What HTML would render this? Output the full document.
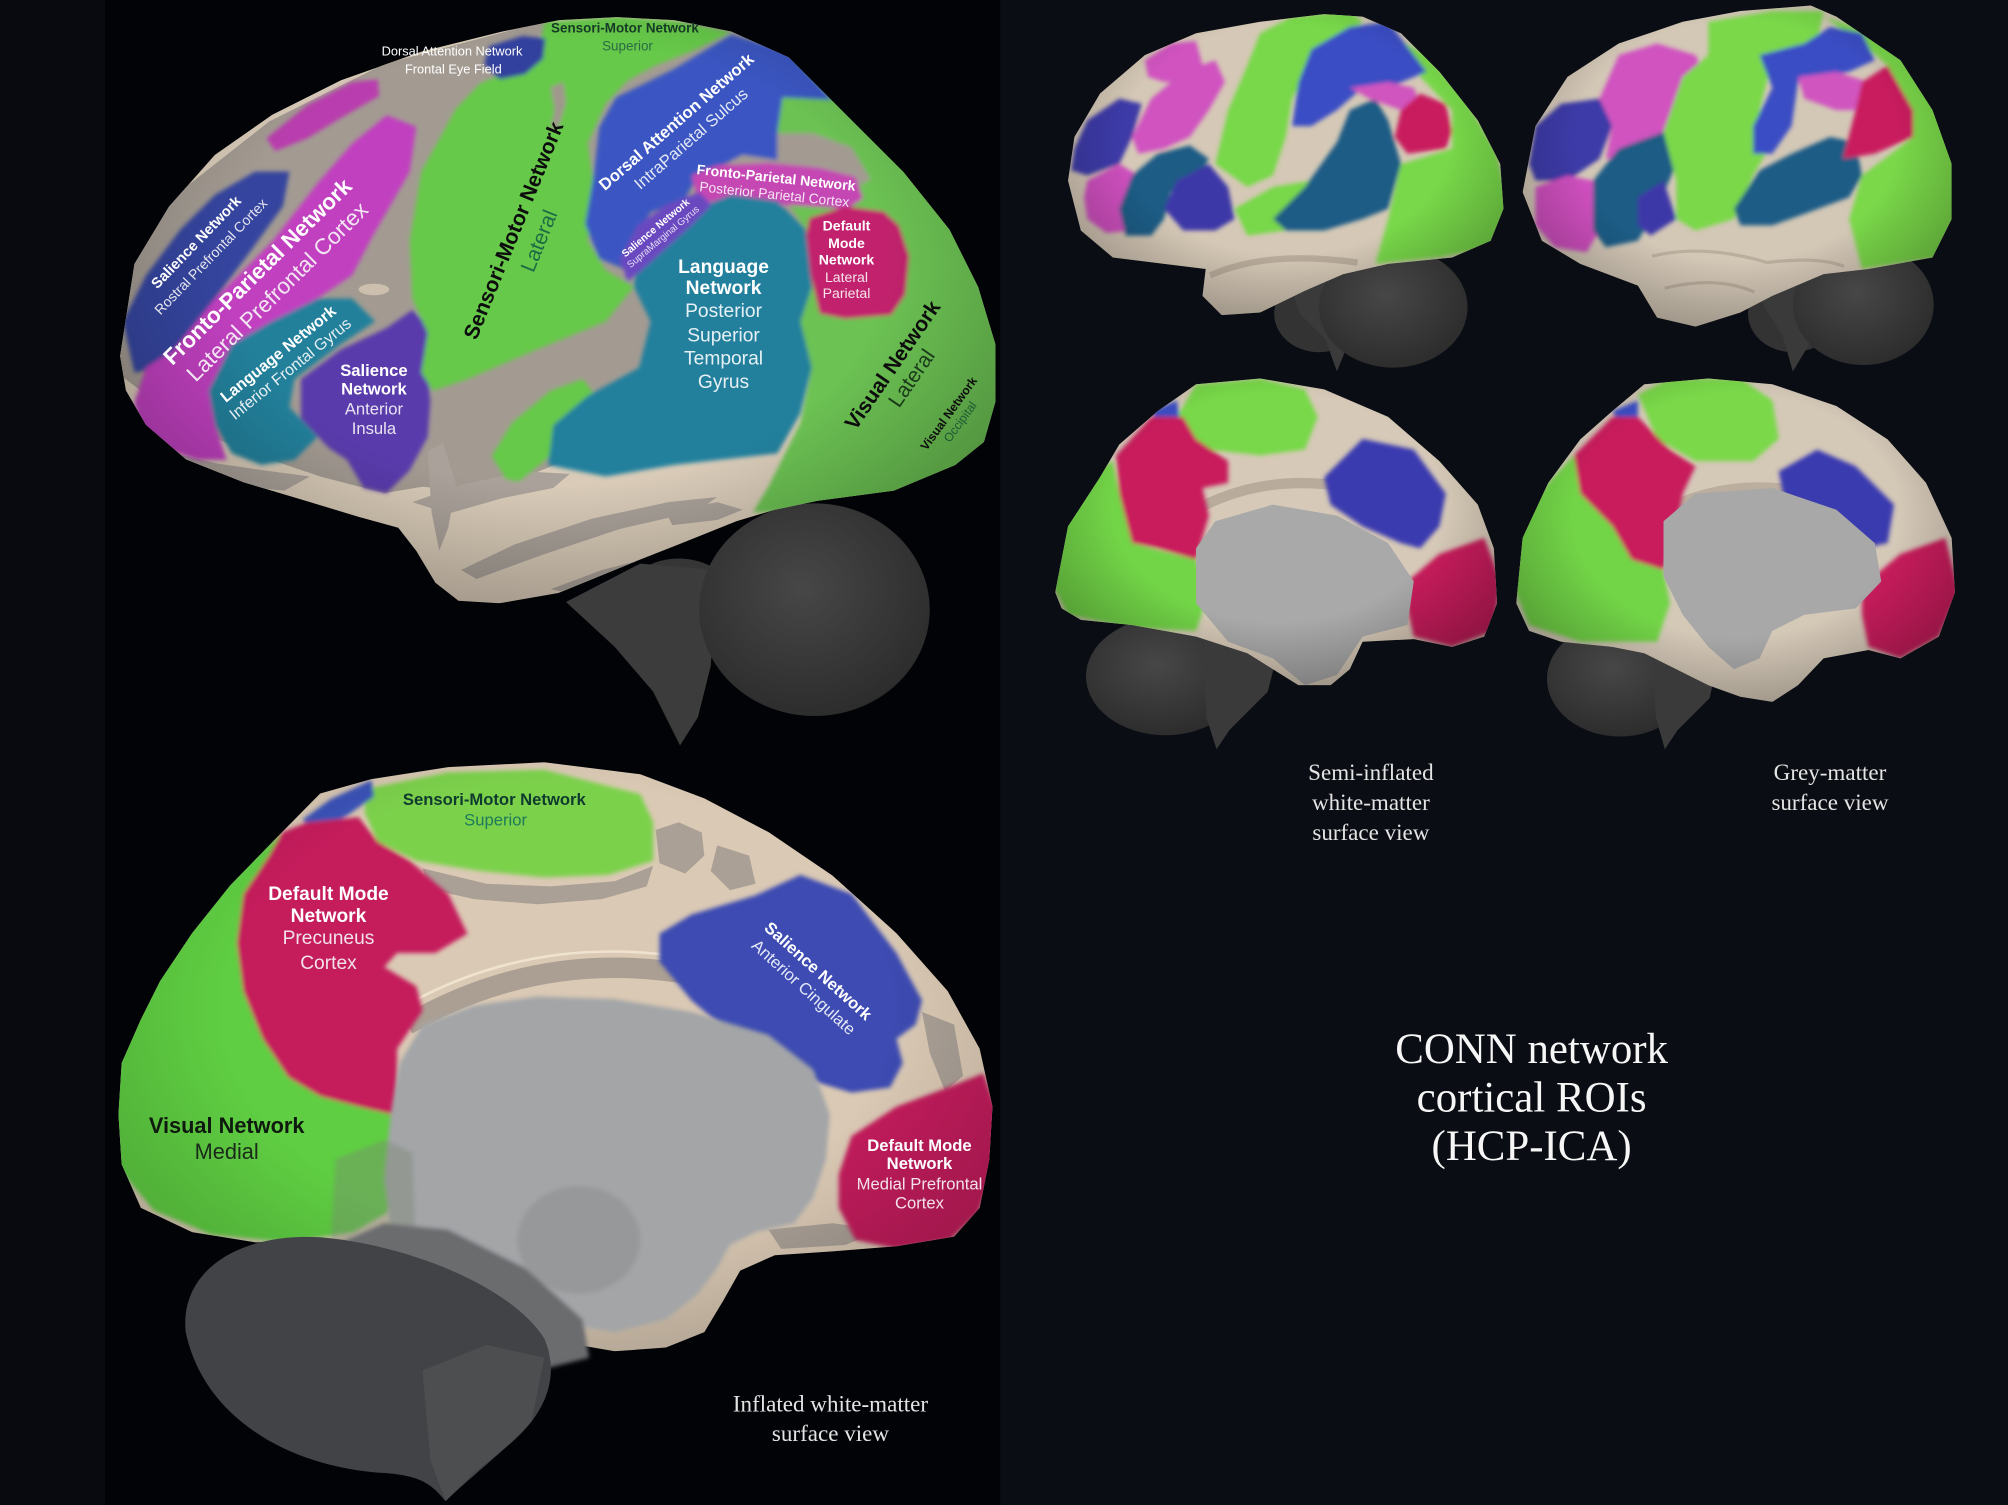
<!DOCTYPE html>
<html><head><meta charset="utf-8"><style>
html,body{margin:0;padding:0;background:#030407;}
svg{display:block;}
</style></head><body>
<svg width="2008" height="1505" viewBox="0 0 1568 1175" preserveAspectRatio="none" xmlns="http://www.w3.org/2000/svg" font-family="'Liberation Sans', Arial, sans-serif">
<defs>
<filter id="soft" x="-10%" y="-10%" width="120%" height="120%"><feGaussianBlur stdDeviation="1.6"/></filter>
<filter id="soft2" x="-10%" y="-10%" width="120%" height="120%"><feGaussianBlur stdDeviation="2.5"/></filter>
<radialGradient id="cb" cx="0.45" cy="0.4" r="0.62"><stop offset="0" stop-color="#474747"/><stop offset="1" stop-color="#2c2c2c"/></radialGradient>
<radialGradient id="shade" cx="0.5" cy="0.42" r="0.62"><stop offset="0.6" stop-color="#000" stop-opacity="0"/><stop offset="1" stop-color="#000" stop-opacity="0.28"/></radialGradient>
<clipPath id="cTL"><polygon points="93.8,277.9 105,206 131.9,161.4 167.7,121 212.6,89.6 266.3,62.7 329.1,40.3 391.8,24.7 436.7,15.7 481.5,13.4 526.3,15.7 571.1,24.7 615.9,44.8 651.8,80.7 705.6,134.5 741.4,179.3 763.8,224.1 777.3,268.9 777.3,313.7 768.3,345.1 745.9,363 698,383 638,391 605,398 575,407 530,425 497,438 436,463 390,471 358,469 340,455 325,430 311,412 279.8,403.4 235,389.9 190.2,376.5 145.3,358.6 114,331.7 98.3,304.8"/></clipPath>
<clipPath id="cBL"><polygon points="220,650 250,619.5 290,608.3 350,598.9 425,595.1 500,604.5 550,623.3 600,649.6 650,683.5 700,728.6 740,773.7 765,818.8 775,864 772.5,905.3 765,943 745,965.5 700,973 650,977 605,980 578,992 565,1015 550,1040 520,1052 480,1055 440,1048 400,1010 330,990 250,967 200,970 150,962 110,943 95,909 92.5,870 95,830 110,796 125,766 150,728.6 180,691"/></clipPath>
<clipPath id="cTR1"><polygon points="834,141 839,107 859,73 894,43 934,26 984,17 1034,11 1064,13 1094,26 1124,56 1154,94 1171.5,128 1174,163 1164,188 1134,201 1084,206 1049,214 1019,227 984,244 954,246 939,231 941.5,210 909,206 869,201 844,180"/></clipPath>
<clipPath id="cTR2"><polygon points="1189,150 1199,98.5 1224,60 1264,34 1314,17 1359,8.6 1414,4.3 1434,13 1484,47 1509,86 1524,128 1524,171 1509,201 1459,210 1424,214 1384,231 1359,244 1324,255 1294,248 1279,223 1234,206 1204,188"/></clipPath>
<clipPath id="cTR3"><polygon points="824,462.5 834,411 859,372.6 874,347 904,321 934,300 984,295.5 1034,304 1084,325.5 1124,360 1154,394 1166.5,428 1169,471 1159,497 1134,505 1104,499 1064,501 1054,522.5 1039,535 1014,535 994,522.5 974,510 934,497 884,488 844,484 829,475"/></clipPath>
<clipPath id="cTR4"><polygon points="1184,471 1189,420 1209,377 1234,343 1259,321 1284,300 1334,295.5 1384,300 1434,317 1474,343 1504,377 1524,420 1526.5,462.5 1514,497 1484,514 1459,507.5 1424,514 1404,535 1384,548 1359,544 1334,535 1309,522.5 1284,510 1259,505 1219,501 1194,492.5"/></clipPath>
</defs>

<!-- backgrounds -->
<rect x="0" y="0" width="1568" height="1175" fill="#020306"/>
<rect x="0" y="0" width="82" height="1175" fill="#080a0f"/>
<rect x="781" y="0" width="787" height="1175" fill="#0a0d13"/>

<!-- ============ TOP-LEFT: inflated lateral ============ -->
<ellipse cx="530" cy="478" rx="48" ry="42" fill="#363636"/>
<polygon points="442,470 500,440 560,445 555,520 545,560 531,582 510,540 480,505" fill="#3c3c3c"/>
<ellipse cx="636" cy="476" rx="90" ry="83" fill="url(#cb)"/>

<g clip-path="url(#cTL)">
  <rect x="80" y="0" width="720" height="480" fill="#d9cbb8"/>
  <polygon points="90,290 100,200 140,150 210,95 300,50 420,18 560,18 620,50 700,130 720,250 640,262 560,300 500,330 440,360 380,385 330,380 300,385 250,372 200,355 150,335" fill="#a39b92"/>
  <g fill="#aaa29a">
    <polygon points="322,392 362,378 410,368 445,370 432,381 392,389 350,401"/>
    <polygon points="360,445 402,425 462,405 522,392 560,388 545,399 484,413 424,433 372,452"/>
    <polygon points="128,352 170,362 212,368 242,372 222,383 180,379 140,367"/>
    <polygon points="430,460 470,445 505,436 495,448 445,463"/>
    <polygon points="334,352 346,346 356,378 350,412 343,430 337,400"/>
    <polygon points="520,400 560,392 580,398 560,406 525,410"/>
  </g>
  <ellipse cx="292" cy="226" rx="12" ry="4.5" fill="#cdbfad"/>
  <g filter="url(#soft)">
    <polygon points="208,108 240,82 275,64 295,62 296,75 270,90 240,108 215,118" fill="#b93cae"/>
    <polygon points="96,251 114,215 141,179 168,152 199,134 226,134 221,161 195,197 168,233 141,269 123,287 105,291" fill="#34449f"/>
    <polygon points="105,314 114,287 136,273 168,233 213,188 248,143 275,112 302,90 325,99 320,134 289,188 275,215 248,233 213,251 181,269 163,305 168,332 177,359 154,359 127,350 109,332" fill="#c13fc0"/>
    <polygon points="163,305 181,269 212,251 248,233 275,233 293,251 266,269 230,296 226,318 248,341 230,359 204,363 181,354 168,332" fill="#23809b"/>
    <polygon points="235,296 266,273 302,256 322,242 347,269 334,291 336,314 334,341 320,367 302,385 284,381 271,359 257,350 235,327" fill="#5a3aac"/>
    <polygon points="425,17 481,13 526,16 571,25 545,38 510,52 490,63 473,81 459,112 464,148 459,188 473,211 495,224 473,251 419,273 365,296 338,305 329,291 334,260 322,233 320,188 329,134 356,85 375,65 400,55 420,45" fill="#66c94a"/>
    <polygon points="430,68 440,64 442,80 436,100 430,102 433,85" fill="#a0978d"/>
    <polygon points="395,374 384,356 400,330 430,305 455,296 466,310 450,336 425,360 405,376" fill="#66c94a"/>
    <polygon points="382,36 408,28 426,30 424,46 410,58 390,62 378,50" fill="#32409e"/>
    <polygon points="598,40 800,40 800,400 588,400 600,380 625,330 634,287 625,251 634,224 629,179 610,150 607,103 611,76 640,70" fill="#6cc253"/>
    <polygon points="573,112 600,104 635,104 665,115 680,140 665,148 620,142 585,140 572,128" fill="#a39b92"/>
    <polygon points="481,76 526,54 571,27 616,40 650,78 611,76 607,103 607,125 580,121 544,139 535,155 508,166 495,188 490,211 468,202 457,175 464,134 468,99" fill="#3a56c2"/>
    <polygon points="540,137 560,129 600,127 640,131 668,138 674,155 662,163 630,161 600,159 570,159 545,156" fill="#c546b3"/>
    <polygon points="632,170 660,161 690,165 702,176 710,200 707,230 696,246 660,249 640,245 633,215 628,190" fill="#c2236d"/>
    <polygon points="499,197 526,170 571,152 607,157 629,179 634,224 625,251 634,287 625,323 607,354 526,363 473,372 428,363 432,332 459,309 499,287 508,251 495,224" fill="#23809d"/>
    <polygon points="484,202 498,176 520,160 546,150 556,160 540,176 520,194 500,212 490,220" fill="#6a48c0"/>
  </g>
  <rect x="90" y="10" width="690" height="465" fill="url(#shade)"/>
</g>

<!-- TL labels -->
<g fill="#fff" text-anchor="middle">
  <text x="488" y="25.5" font-size="10.5" font-weight="bold" fill="#163a26">Sensori-Motor Network</text>
  <text x="490" y="39.5" font-size="10.5" fill="#2a6a45">Superior</text>
  <text x="353" y="43.5" font-size="10">Dorsal Attention Network</text>
  <text x="354" y="57.5" font-size="10">Frontal Eye Field</text>
  <g transform="translate(153,189) rotate(-46)"><text y="4" font-size="11.5" font-weight="bold">Salience Network</text><text y="20" font-size="11" fill="#e6e6f0">Rostral Prefrontal Cortex</text></g>
  <g transform="translate(201,212) rotate(-44.6)"><text y="6" font-size="17.5" font-weight="bold">Fronto-Parietal Network</text><text y="28" font-size="17.5" fill="#f3e6f3">Lateral Prefrontal Cortex</text></g>
  <g transform="translate(217,276) rotate(-39)"><text y="4.5" font-size="12.5" font-weight="bold">Language Network</text><text y="19.5" font-size="12.5" fill="#e6eef2">Inferior Frontal Gyrus</text></g>
  <text x="292" y="293.7" font-size="13" font-weight="bold">Salience</text>
  <text x="292" y="308" font-size="13" font-weight="bold">Network</text>
  <text x="292" y="323.7" font-size="13" fill="#e8e4f2">Anterior</text>
  <text x="292" y="338.7" font-size="13" fill="#e8e4f2">Insula</text>
  <g transform="translate(401,180) rotate(-67.9)"><text y="5.5" font-size="16.5" font-weight="bold" fill="#0c0c0c">Sensori-Motor Network</text><text y="27" font-size="16.5" fill="#1d6b45">Lateral</text></g>
  <g transform="translate(528,95) rotate(-41)"><text y="4.5" font-size="13" font-weight="bold">Dorsal Attention Network</text><text y="22" font-size="13" fill="#e4e8f6">IntraParietal Sulcus</text></g>
  <g transform="translate(606,139) rotate(6)"><text y="3.5" font-size="11" font-weight="bold">Fronto-Parietal Network</text><text y="16.5" font-size="10.8" fill="#f4e4f2">Posterior Parietal Cortex</text></g>
  <g transform="translate(512,178) rotate(-40)"><text y="2.5" font-size="8" font-weight="bold">Salience Network</text><text y="11.5" font-size="7.5" fill="#e6e0f4">SupraMarginal Gyrus</text></g>
  <text x="565" y="213" font-size="15" font-weight="bold">Language</text>
  <text x="565" y="229.5" font-size="15" font-weight="bold">Network</text>
  <text x="565" y="247.5" font-size="15" fill="#e6f0f4">Posterior</text>
  <text x="565" y="266.5" font-size="15" fill="#e6f0f4">Superior</text>
  <text x="565" y="284.5" font-size="15" fill="#e6f0f4">Temporal</text>
  <text x="565" y="303" font-size="15" fill="#e6f0f4">Gyrus</text>
  <text x="661" y="180" font-size="11" font-weight="bold">Default</text>
  <text x="661" y="193.5" font-size="11" font-weight="bold">Mode</text>
  <text x="661" y="206.5" font-size="11" font-weight="bold">Network</text>
  <text x="661" y="220" font-size="11" fill="#f4e4ec">Lateral</text>
  <text x="661" y="232.5" font-size="11" fill="#f4e4ec">Parietal</text>
  <g transform="translate(697,285) rotate(-55.4)"><text y="5.5" font-size="16.5" font-weight="bold" fill="#0c0c0c">Visual Network</text><text y="23.5" font-size="16.5" fill="#1a3a1a">Lateral</text></g>
  <g transform="translate(741,323) rotate(-54)"><text y="3" font-size="9.5" font-weight="bold" fill="#0c0c0c">Visual Network</text><text y="14" font-size="9.5" fill="#1d5a35">Occipital</text></g>
</g>

<!-- ============ BOTTOM-LEFT: inflated medial ============ -->
<g clip-path="url(#cBL)">
  <rect x="80" y="580" width="710" height="490" fill="#dac9b4"/>
  <g fill="#aaa096">
    <polygon points="330,678 380,690 430,692 480,688 510,676 505,692 470,702 420,706 370,702 335,694"/>
    <polygon points="512,648 530,642 548,650 550,668 535,682 515,674"/>
    <polygon points="560,660 585,668 590,690 570,695 555,680"/>
    <polygon points="720,790 745,800 752,840 738,852 726,822"/>
    <polygon points="740,870 760,880 762,910 748,915"/>
    <polygon points="600,960 650,955 690,960 660,972 610,975"/>
  </g>
  <path d="M318,800 Q430,735 560,765 Q620,780 650,830" stroke="#ab9f93" stroke-width="16" fill="none"/>
  <path d="M322,782 Q430,724 560,752" stroke="#efe3d0" stroke-width="2" fill="none"/>
  <g filter="url(#soft)">
    <polygon points="285,616 350,603 425,601 500,620 510,642 510,672 475,683 425,685 375,680 325,672 295,657 285,635" fill="#7bd14c"/>
    <polygon points="236,640 258,624 290,609 292,622 272,636 248,650" fill="#3a52b8"/>
    <polygon points="220,650 210,668 190,698 185,736 190,774 205,811 225,841 250,856 280,864 310,871 322,894 318,924 302,947 276,962 225,970 165,964 120,945 90,909 88,856 100,796 130,744 175,688" fill="#5fce42"/>
    <polygon points="220,650 240,642 280,638 295,657 320,672 350,698 365,729 340,744 310,744 300,755 325,770 330,789 320,804 310,819 310,871 280,864 250,856 225,841 205,811 190,774 185,736 190,698 210,668" fill="#c51b5b"/>
    <polygon points="515,729 540,714 590,699 625,683 665,698 700,744 720,781 715,800 700,811 705,830 695,849 665,853 625,841 590,826 575,811 540,781 515,751" fill="#3c4cb2"/>
    <polygon points="665,887 700,864 740,849 768,838 780,871 776,913 764,947 742,968 700,975 668,968 655,943 655,917" fill="#c21a5c"/>
  </g>
  <rect x="85" y="590" width="700" height="470" fill="url(#shade)" opacity="0.7"/>
</g>
<!-- medial wall & ghost -->
<g filter="url(#soft)">
<polygon points="312,830 330,800 370,785 420,778 480,780 540,790 600,808 635,835 648,870 645,905 635,935 620,955 590,962 570,972 560,990 545,1010 520,1030 480,1040 450,1035 430,1020 400,1000 360,985 330,975 305,960 300,920 305,870" fill="#a3a5a7"/>
<ellipse cx="452" cy="968" rx="48" ry="42" fill="#96989a"/>
<polygon points="262,905 300,890 322,900 325,985 300,995 258,975" fill="#7a8476" opacity="0.4"/>
<polygon points="255,975 300,955 350,960 410,990 455,1030 460,1060 420,1070 370,1050 320,1020 270,1000" fill="#6a6c6e"/>
</g>
<path d="M145,1040 C140,990 190,962 250,966 C320,972 400,1005 425,1045 C440,1080 420,1110 395,1130 C375,1148 358,1162 348,1172 C338,1160 330,1152 300,1150 C230,1146 160,1110 145,1040 Z" fill="#424346"/>
<polygon points="330,1070 380,1050 425,1060 415,1110 395,1130 370,1150 348,1172 336,1140" fill="#4c4e50"/>

<!-- BL labels -->
<g fill="#fff" text-anchor="middle">
  <text x="386" y="628.5" font-size="13" font-weight="bold" fill="#0f3a2e">Sensori-Motor Network</text>
  <text x="387" y="644.5" font-size="13" fill="#1d7a5a">Superior</text>
  <text x="256.5" y="702.8" font-size="15" font-weight="bold">Default Mode</text>
  <text x="256.5" y="719.7" font-size="15" font-weight="bold">Network</text>
  <text x="256.5" y="737" font-size="15" fill="#f2e2ea">Precuneus</text>
  <text x="256.5" y="756.5" font-size="15" fill="#f2e2ea">Cortex</text>
  <g transform="translate(639,758) rotate(42)"><text y="4.5" font-size="13" font-weight="bold">Salience Network</text><text y="21.5" font-size="13" fill="#e4e8f6">Anterior Cingulate</text></g>
  <text x="177" y="884.5" font-size="17" font-weight="bold" fill="#0e1a0e">Visual Network</text>
  <text x="177" y="905" font-size="17" fill="#1a2a1a">Medial</text>
  <text x="718" y="898.5" font-size="13" font-weight="bold">Default Mode</text>
  <text x="718" y="912.5" font-size="13" font-weight="bold">Network</text>
  <text x="718" y="928.5" font-size="13" fill="#f2e2ea">Medial Prefrontal</text>
  <text x="718" y="943.5" font-size="13" fill="#f2e2ea">Cortex</text>
</g>
<g font-family="'Liberation Serif', 'Times New Roman', serif" fill="#e4e4e4" text-anchor="middle" font-size="18">
  <text x="648.5" y="1102">Inflated white-matter</text>
  <text x="648.5" y="1125">surface view</text>
</g>

<!-- ============ TR1: semi-inflated lateral ============ -->
<ellipse cx="1030" cy="245" rx="35" ry="30" fill="#333"/>
<polygon points="1005,215 1060,215 1065,250 1052,270 1044,290 1035,265 1015,245" fill="#3a3a3a"/>
<ellipse cx="1088" cy="240" rx="58" ry="47" fill="url(#cb)"/>
<g clip-path="url(#cTR1)">
  <rect x="830" y="5" width="350" height="245" fill="#d5c8b6"/>
  <g filter="url(#soft)">
    <polygon points="894,47 914,34 934,32 939,51 929,64 909,64 896.5,60" fill="#d052c0"/>
    <polygon points="884,107 899,77 924,56 949,47 956.5,64 944,86 929,107 909,116 889,120" fill="#d052c0"/>
    <polygon points="839,116 849,94 874,77 891.5,81 884,107 874,128 849,137 836.5,133" fill="#3d3aa8"/>
    <polygon points="849,141 874,128 889,137 884,180 864,182 849,171 846.5,154" fill="#cf4fbf"/>
    <polygon points="874,163 884,137 904,120 929,113.5 944,124 934,141 914,150 909,171 899,184 879,184" fill="#1f5c85"/>
    <polygon points="909,163 919,141 944,128 959,146 964,171 949,180 924,180" fill="#3c38a8"/>
    <polygon points="949,128 959,86 974,51 984,26 1009,13 1054,8.6 1064,17 1044,34 1024,51 1009,77 1004,107 994,137 974,146" fill="#78d848"/>
    <polygon points="964,163 994,146 1024,141 1034,154 1004,180 974,184" fill="#78d848"/>
    <polygon points="1084,26 1114,43 1144,77 1169,120 1178,163 1164,193 1124,201 1074,206 1084,171 1094,128 1134,116 1134,86 1109,60 1094,38.5" fill="#78d848"/>
    <polygon points="1009,98.5 1014,64 1024,38.5 1054,21 1084,17 1104,43 1114,56 1084,68.5 1064,68.5 1044,86 1024,98.5" fill="#3a4ec4"/>
    <polygon points="994,171 1019,146 1044,111 1054,86 1074,77 1084,94 1094,128 1084,163 1064,171 1034,180 1004,180" fill="#1f5c85"/>
    <polygon points="1054,68.5 1084,64 1104,68.5 1109,81 1094,86 1069,77" fill="#d055bf"/>
    <polygon points="1094,86 1109,73 1129,81 1134,103 1129,116 1099,120 1089,107" fill="#c91f5f"/>
  </g>
  <path d="M945,215 Q990,195 1060,205" stroke="#b9ac9c" stroke-width="5" fill="none"/>
  <rect x="834" y="8" width="342" height="240" fill="url(#shade)"/>
</g>

<!-- ============ TR2: grey-matter lateral ============ -->
<ellipse cx="1400" cy="245" rx="35" ry="30" fill="#333"/>
<polygon points="1370,215 1425,215 1428,250 1412,270 1400,290 1392,262 1378,240" fill="#3a3a3a"/>
<ellipse cx="1455" cy="238" rx="55" ry="47" fill="url(#cb)"/>
<g clip-path="url(#cTR2)">
  <rect x="1185" y="0" width="345" height="260" fill="#d3c7b6"/>
  <g filter="url(#soft)">
    <polygon points="1194,128 1199,98.5 1219,81 1249,77 1259,98.5 1249,124 1224,141 1199,141" fill="#3d3aa8"/>
    <polygon points="1249,77 1264,43 1294,34 1324,43 1334,64 1314,86 1304,107 1279,120 1254,124 1259,98.5" fill="#d052c0"/>
    <polygon points="1199,146 1224,137 1244,141 1249,180 1239,197 1214,193 1199,176" fill="#cf4fbf"/>
    <polygon points="1244,141 1264,116 1299,103 1309,128 1294,163 1279,188 1254,193 1244,180" fill="#1f5c85"/>
    <polygon points="1279,154 1299,141 1309,171 1289,184 1279,176" fill="#3c38a8"/>
    <polygon points="1299,103 1314,60 1334,43 1334,17 1384,8.6 1424,8.6 1419,34 1384,47 1374,86 1384,111 1369,137 1354,171 1324,180 1309,171 1309,141" fill="#7ad84a"/>
    <polygon points="1424,13 1464,26 1494,51 1514,86 1528,128 1528,171 1514,201 1454,210 1444,171 1454,137 1494,107 1494,86 1474,51 1454,34" fill="#7ad84a"/>
    <polygon points="1369,98.5 1384,68.5 1374,43 1409,34 1429,21 1454,26 1464,47 1444,56 1404,64 1399,98.5 1384,120 1369,120" fill="#3a4ec4"/>
    <polygon points="1354,163 1374,133 1399,120 1429,107 1449,111 1454,137 1444,154 1409,167 1384,176 1359,176" fill="#1f5c85"/>
    <polygon points="1404,60 1434,56 1459,64 1454,86 1434,86 1409,77" fill="#d055bf"/>
    <polygon points="1454,64 1474,51 1494,86 1494,107 1464,120 1439,124 1449,86" fill="#c91f5f"/>
  </g>
  <g stroke="#bcae9e" stroke-width="2.5" fill="none">
    <path d="M1290,200 Q1330,190 1380,205 Q1420,200 1440,208"/>
    <path d="M1300,225 Q1340,215 1370,228"/>
  </g>
  <rect x="1189" y="4" width="335" height="252" fill="url(#shade)"/>
</g>

<!-- ============ TR3: semi-inflated medial ============ -->
<ellipse cx="910" cy="528" rx="62" ry="46" fill="url(#cb)"/>
<polygon points="940,500 1000,500 990,540 960,570 950,585 942,560" fill="#3a3a3a"/>
<g clip-path="url(#cTR3)">
  <rect x="815" y="290" width="360" height="250" fill="#d6c9b7"/>
  <path d="M930,400 Q1000,360 1090,390" stroke="#b8ab9c" stroke-width="8" fill="none"/>
  <g filter="url(#soft)">
    <polygon points="919,325.5 934,300 984,295.5 1019,304 1029,325.5 1019,351 984,355.5 944,351 924,342.6" fill="#78d848"/>
    <polygon points="899,321 919,312.6 921.5,330 904,330" fill="#3a4ec4"/>
    <polygon points="869,360 874,385.4 884,424 934,437 944,462.5 934,492.5 884,490.4 834,480 820,454 826,411 844,385.4 860,365" fill="#72d446"/>
    <polygon points="871.5,355.5 899,325.5 924,325.5 934,342.6 959,360 959,377 939,381 944,402.6 934,437 904,428 884,424 874,385.4" fill="#c81d5c"/>
    <polygon points="1034,372.6 1064,342.6 1104,351 1129,385.4 1124,411 1109,428 1094,424 1064,411 1039,394" fill="#3b3ab0"/>
    <polygon points="1099,454 1124,432.5 1159,420 1172,454 1166,492.5 1134,505 1104,497 1099,475" fill="#c81d5c"/>
  </g>
  <polygon points="934,428 949,407 994,394 1044,402.6 1084,424 1104,454 1099,488 1064,497 1044,527 1019,535 994,514 959,501 934,471" fill="#a9a9a9"/>
  <rect x="824" y="295" width="346" height="240" fill="url(#shade)"/>
</g>

<!-- ============ TR4: grey-matter medial ============ -->
<ellipse cx="1265" cy="530" rx="57" ry="45" fill="url(#cb)"/>
<polygon points="1290,500 1345,500 1335,545 1310,570 1300,585 1293,560" fill="#3a3a3a"/>
<g clip-path="url(#cTR4)">
  <rect x="1180" y="290" width="352" height="262" fill="#d4c8b7"/>
  <path d="M1295,400 Q1370,360 1460,400" stroke="#bcae9e" stroke-width="7" fill="none"/>
  <g filter="url(#soft)">
    <polygon points="1279,308 1304,295.5 1359,295.5 1384,312.6 1389,342.6 1369,360 1324,360 1294,342.6" fill="#7ad84a"/>
    <polygon points="1259,321 1279,312.6 1279,330 1264,330" fill="#3a4ec4"/>
    <polygon points="1229,355.5 1234,385.4 1259,411 1274,437 1299,445 1304,471 1294,501 1234,501 1194,488 1180,454 1185,411 1209,377" fill="#72d446"/>
    <polygon points="1229,355.5 1259,325.5 1279,325.5 1304,351 1324,364 1314,385.4 1309,411 1299,445 1274,437 1259,411 1234,385.4" fill="#c81d5c"/>
    <polygon points="1389,368 1419,351 1449,364 1479,394 1474,424 1454,428 1419,411 1394,394" fill="#3b3ab0"/>
    <polygon points="1454,458 1484,432.5 1519,420 1530,462.5 1514,497 1484,514 1459,505 1454,480" fill="#c81d5c"/>
  </g>
  <polygon points="1299,407 1324,385.4 1384,381 1434,398 1464,424 1469,454 1449,475 1409,480 1384,492.5 1374,514 1354,522.5 1334,505 1314,480 1299,450" fill="#a8a8a8"/>
  <rect x="1184" y="295" width="343" height="255" fill="url(#shade)"/>
</g>

<!-- right panel captions -->
<g font-family="'Liberation Serif', 'Times New Roman', serif" fill="#e4e4e4" text-anchor="middle" font-size="18">
  <text x="1070.5" y="609">Semi-inflated</text>
  <text x="1070.5" y="632.5">white-matter</text>
  <text x="1070.5" y="656">surface view</text>
  <text x="1429" y="609">Grey-matter</text>
  <text x="1429" y="632.5">surface view</text>
</g>
<g font-family="'Liberation Serif', 'Times New Roman', serif" fill="#f6f6f6" text-anchor="middle" font-size="33.5">
  <text x="1196" y="829.8">CONN network</text>
  <text x="1196" y="867.6">cortical ROIs</text>
  <text x="1196" y="905.8">(HCP-ICA)</text>
</g>
</svg>
</body></html>
